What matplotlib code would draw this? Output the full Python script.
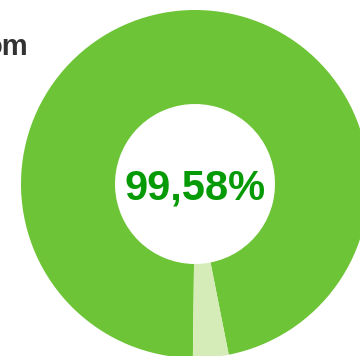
import matplotlib
matplotlib.use("Agg")
import matplotlib.pyplot as plt

# Share values shown by the ring
labels = ["Disponível", "Indisponível"]
values = [99.58, 0.42]
center_label = "99,58%"
title_text = "om"

colors = ["#6cc436", "#d5ecb8"]
min_visible_pct = 3.3  # smallest share drawn so tiny slices stay visible

W, H = 360, 356
fig = plt.figure(figsize=(W / 100, H / 100), dpi=100)
ax = fig.add_axes([0, 0, 1, 1])

total = sum(values)
shares = [v / total * 100 for v in values]
display = [max(s, min_visible_pct) for s in shares]
display[0] = 100 - sum(display[1:])

cx, cy = 195, H - 184
r_out, r_in = 174, 80
ax.pie(display, colors=colors, center=(cx, cy), radius=r_out,
       startangle=269.3, counterclock=False,
       wedgeprops=dict(width=r_out - r_in, linewidth=0),
       frame=True)
ax.set_xlim(0, W)
ax.set_ylim(0, H)
ax.set_aspect("equal")
ax.axis("off")

ax.text(cx, cy - 5, center_label, ha="center", va="center",
        fontsize=30, fontweight="bold", color="#079a07",
        family="Liberation Sans")

ax.text(29, H - 55, title_text, ha="right", va="baseline",
        fontsize=21, fontweight="bold", color="#333333",
        family="Liberation Sans")

fig.savefig("out.png", dpi=100)
